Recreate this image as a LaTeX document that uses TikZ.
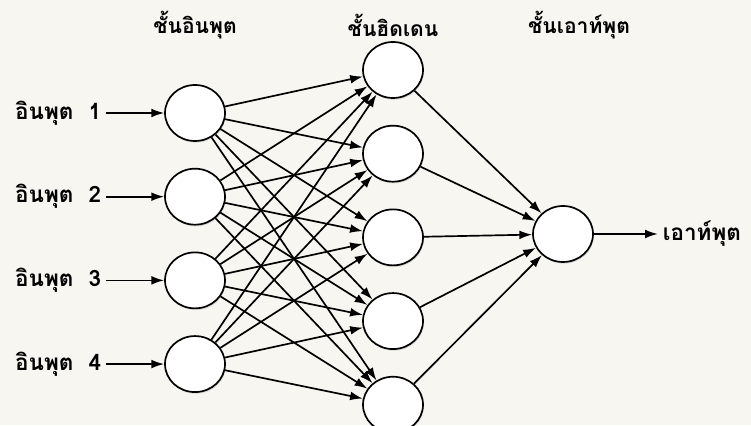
\documentclass[tikz,border=0pt]{standalone}
\usepackage{fontspec}
\newfontfamily\thaifont[Script=Thai]{Loma}
\usepackage{tikz}
\usetikzlibrary{arrows.meta,positioning,shapes.geometric,shadows}

\definecolor{paper}{HTML}{F7F6F1}

\begin{document}
\begin{tikzpicture}[
    node distance=0.65cm and 1.6cm,
    neuron/.style={ellipse, draw, line width=1.2pt, fill=white,
                   minimum width=1.5cm, minimum height=1.4cm,
                   drop shadow={shadow xshift=0.6pt, shadow yshift=-1.2pt,
                                opacity=0.25}},
    lbl/.style={font=\thaifont\bfseries\fontsize{16}{18}\selectfont},
    header/.style={font=\thaifont\bfseries\fontsize{15}{17}\selectfont},
    arrow/.style={-{Latex[length=3.2mm,width=2.2mm]}, line width=1.2pt},
  ]
    \fill[paper] (0,0) rectangle (18.775,10.625);
    \useasboundingbox (0,0) rectangle (18.775,10.625);

    % input layer
    \node[neuron] (in1) at (4.875,7.8) {};
    \node[neuron, below=of in1] (in2) {};
    \node[neuron, below=of in2] (in3) {};
    \node[neuron, below=of in3] (in4) {};

    % hidden layer
    \node[neuron] (h1) at (9.825,8.875) {};
    \node[neuron, below=of h1] (h2) {};
    \node[neuron, below=of h2] (h3) {};
    \node[neuron, below=of h3] (h4) {};
    \node[neuron, below=of h4] (h5) {};

    % output layer
    \node[neuron] (out) at (14.075,4.775) {};

    % labels
    \node[lbl, left=1.45cm of in1] (x1) {อินพุต~~1};
    \node[lbl, left=1.45cm of in2] (x2) {อินพุต~~2};
    \node[lbl, left=1.45cm of in3] (x3) {อินพุต~~3};
    \node[lbl, left=1.45cm of in4] (x4) {อินพุต~~4};
    \node[lbl, right=of out] (y) {เอาท์พุต};

    \node[header, above=0cm of h1] (hhid) {ชั้นฮิดเดน};
    \node[header] (hin) at (in1 |- hhid) {ชั้นอินพุต};
    \node[header] (hout) at ([xshift=0.4cm]out |- hhid) {ชั้นเอาท์พุต};

    \draw[arrow] (x1) -- (in1);
    \draw[arrow] (x2) -- (in2);
    \draw[arrow] (x3) -- (in3);
    \draw[arrow] (x4) -- (in4);

    % input -> hidden
    \draw[arrow] (in1) -- (h1); \draw[arrow] (in1) -- (h2); \draw[arrow] (in1) -- (h3);
    \draw[arrow] (in1) -- (h4); \draw[arrow] (in1) -- (h5);
    \draw[arrow] (in2) -- (h1); \draw[arrow] (in2) -- (h2); \draw[arrow] (in2) -- (h3);
    \draw[arrow] (in2) -- (h4); \draw[arrow] (in2) -- (h5);
    \draw[arrow] (in3) -- (h1); \draw[arrow] (in3) -- (h2); \draw[arrow] (in3) -- (h3);
    \draw[arrow] (in3) -- (h4); \draw[arrow] (in3) -- (h5);
    \draw[arrow] (in4) -- (h1); \draw[arrow] (in4) -- (h2); \draw[arrow] (in4) -- (h3);
    \draw[arrow] (in4) -- (h4); \draw[arrow] (in4) -- (h5);

    % hidden -> output
    \draw[arrow] (h1) -- (out); \draw[arrow] (h2) -- (out); \draw[arrow] (h3) -- (out);
    \draw[arrow] (h4) -- (out); \draw[arrow] (h5) -- (out);

    \draw[arrow] (out) -- (y);
\end{tikzpicture}
\end{document}
